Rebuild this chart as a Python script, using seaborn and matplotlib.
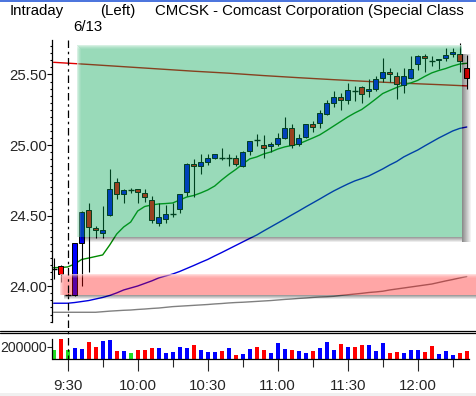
import numpy as np
import matplotlib
matplotlib.use('Agg')
import matplotlib.pyplot as plt
import seaborn as sns
from matplotlib.patches import Rectangle
from matplotlib.lines import Line2D
from matplotlib.ticker import FixedLocator, MultipleLocator

# ---------------- data ----------------
# 3-minute candles, first two bars before 9:30 (minutes relative to 9:30)
bar_minutes = np.arange(60) * 3 - 6
opens = [24.12, 24.145, 23.94, 23.94, 24.31, 24.54, 24.41, 24.38, 24.505, 24.74,
         24.655, 24.685, 24.69, 24.66, 24.61, 24.45, 24.48, 24.515, 24.55, 24.665,
         24.865, 24.855, 24.882, 24.91, 24.91, 24.905, 24.905, 24.855, 24.955, 25.035,
         25.00, 24.99, 25.01, 25.05, 25.12, 25.01, 25.06, 25.147, 25.155, 25.22,
         25.30, 25.34, 25.32, 25.38, 25.41, 25.38, 25.395, 25.477, 25.52, 25.49,
         25.425, 25.478, 25.572, 25.633, 25.595, 25.60, 25.615, 25.643, 25.643, 25.545]
highs = [24.20, 24.15, 23.95, 24.305, 24.53, 24.59, 24.43, 24.57, 24.83, 24.77,
         24.69, 24.695, 24.69, 24.69, 24.64, 24.59, 24.575, 24.59, 24.65, 24.87,
         24.90, 24.94, 24.94, 24.94, 24.98, 24.94, 24.93, 24.96, 25.03, 25.08,
         25.07, 25.025, 25.085, 25.20, 25.15, 25.08, 25.15, 25.17, 25.25, 25.32,
         25.38, 25.37, 25.44, 25.415, 25.42, 25.47, 25.49, 25.62, 25.545, 25.52,
         25.545, 25.63, 25.635, 25.645, 25.63, 25.61, 25.69, 25.684, 25.72, 25.64]
lows = [24.05, 24.03, 23.93, 23.93, 24.00, 24.10, 24.34, 24.34, 24.50, 24.62,
        24.59, 24.66, 24.59, 24.60, 24.45, 24.43, 24.445, 24.49, 24.52, 24.64,
        24.63, 24.795, 24.86, 24.90, 24.895, 24.85, 24.85, 24.846, 24.93, 24.99,
        24.91, 24.95, 24.99, 25.04, 24.98, 24.995, 25.05, 25.095, 25.12, 25.215,
        25.27, 25.245, 25.29, 25.31, 25.30, 25.34, 25.38, 25.45, 25.45, 25.325,
        25.367, 25.47, 25.53, 25.52, 25.56, 25.537, 25.595, 25.626, 25.52, 25.40]
closes = [24.12, 24.09, 23.94, 24.305, 24.528, 24.42, 24.40, 24.40, 24.69, 24.65,
          24.685, 24.685, 24.665, 24.63, 24.47, 24.49, 24.51, 24.52, 24.65, 24.865,
          24.855, 24.88, 24.906, 24.937, 24.905, 24.908, 24.865, 24.95, 25.03, 25.03,
          24.98, 25.01, 25.05, 25.12, 25.00, 25.05, 25.15, 25.13, 25.225, 25.30,
          25.34, 25.32, 25.39, 25.375, 25.36, 25.40, 25.47, 25.515, 25.50, 25.43,
          25.49, 25.537, 25.633, 25.615, 25.59, 25.607, 25.637, 25.66, 25.595, 25.475]
volumes = [145000, 331000, 145000, 186000, 168000, 278000, 203000, 296000, 313000, 139000,
           139000, 99000, 151000, 151000, 186000, 186000, 104000, 122000, 203000, 186000,
           238000, 151000, 116000, 122000, 133000, 186000, 70000, 87000, 168000, 203000,
           151000, 104000, 261000, 168000, 151000, 133000, 104000, 133000, 186000, 290000,
           151000, 244000, 203000, 203000, 226000, 226000, 133000, 261000, 104000, 122000,
           104000, 151000, 151000, 122000, 220000, 87000, 133000, 70000, 104000, 133000]

ma_short = [24.132, 24.133, 24.137, 24.158, 24.190, 24.200, 24.211, 24.222, 24.292, 24.370,
            24.420, 24.455, 24.533, 24.565, 24.576, 24.583, 24.586, 24.590, 24.611, 24.632,
            24.643, 24.661, 24.682, 24.710, 24.753, 24.792, 24.827, 24.866, 24.902, 24.916,
            24.937, 24.951, 24.972, 24.987, 24.997, 25.008, 25.029, 25.050, 25.072, 25.103,
            25.135, 25.167, 25.199, 25.227, 25.252, 25.288, 25.326, 25.365, 25.387, 25.408,
            25.426, 25.440, 25.458, 25.486, 25.511, 25.528, 25.542, 25.560, 25.574, 25.579]
ma_mid = [23.880, 23.880, 23.880, 23.885, 23.892, 23.899, 23.910, 23.921, 23.935, 23.953,
          23.974, 23.988, 24.002, 24.020, 24.038, 24.059, 24.073, 24.087, 24.105, 24.126,
          24.147, 24.169, 24.190, 24.215, 24.239, 24.264, 24.289, 24.314, 24.339, 24.363,
          24.392, 24.420, 24.448, 24.476, 24.505, 24.533, 24.562, 24.590, 24.618, 24.647,
          24.675, 24.700, 24.724, 24.746, 24.763, 24.781, 24.806, 24.831, 24.859, 24.884,
          24.916, 24.941, 24.965, 24.994, 25.022, 25.050, 25.075, 25.100, 25.118, 25.128]
ma_long = [23.816, 23.816, 23.816, 23.816, 23.816, 23.816, 23.816, 23.820, 23.824, 23.827,
           23.830, 23.832, 23.836, 23.839, 23.843, 23.846, 23.851, 23.856, 23.859, 23.862,
           23.865, 23.868, 23.871, 23.875, 23.878, 23.882, 23.885, 23.887, 23.890, 23.893,
           23.896, 23.899, 23.903, 23.907, 23.910, 23.914, 23.917, 23.921, 23.924, 23.926,
           23.929, 23.935, 23.940, 23.945, 23.950, 23.956, 23.960, 23.965, 23.974, 23.981,
           23.988, 23.995, 24.002, 24.009, 24.016, 24.027, 24.038, 24.048, 24.059, 24.069]
prev_line_minutes = [-6, 9, 24, 39, 54, 69, 84, 99, 114, 129, 144, 159, 171]
prev_line_values = [25.586, 25.571, 25.555, 25.539, 25.523, 25.509, 25.492, 25.477,
                    25.463, 25.450, 25.438, 25.428, 25.419]

# zones
green_zone = dict(x0=4.0, x1=169.0, y0=24.349, y1=25.709)
red_zone = dict(x0=-3.3, x1=180.0, y0=23.941, y1=24.087)

price_ticks = [24.00, 24.50, 25.00, 25.50]
time_ticks = [0, 30, 60, 90, 120, 150]
time_labels = ['9:30', '10:00', '10:30', '11:00', '11:30', '12:00']
vol_ticks = [200000]

# ---------------- style ----------------
sns.set_style('white')
plt.rcParams['font.family'] = ['Liberation Sans', 'DejaVu Sans']
FS = 10.8  # ~15 px at 100 dpi

W, H = 477, 396
fig = plt.figure(figsize=(W / 100, H / 100), dpi=100)
PX_L, PX_R = 52.5, 477
P_TOP, P_BOT = 40, 322.3
V_TOP, V_BOT = 333, 359
ax = fig.add_axes([PX_L / W, 1 - P_BOT / H, (PX_R - PX_L) / W, (P_BOT - P_TOP) / H])
axv = fig.add_axes([PX_L / W, 1 - V_BOT / H, (PX_R - PX_L) / W, (V_BOT - V_TOP) / H])
for a in (ax, axv):
    a.set_facecolor('none')
    a.set_xlim(-6.5, 175.4)
ax.set_ylim(23.745, 25.744)
axv.set_ylim(0, 433000)

pxx = 181.9 / 424.5          # minutes per pixel
pxy = (25.744 - 23.745) / (P_BOT - P_TOP)  # price per pixel

UP, DOWN, FLAT = '#0000ff', '#ff0000', '#22dd22'

# moving-average lines
sns.lineplot(x=prev_line_minutes, y=prev_line_values, ax=ax, color='#e00000', lw=1.0, zorder=1, legend=False)
sns.lineplot(x=bar_minutes, y=ma_long, ax=ax, color='#808080', lw=1.0, zorder=1, legend=False)
sns.lineplot(x=bar_minutes, y=ma_mid, ax=ax, color='#0000e0', lw=1.0, zorder=1, legend=False)
sns.lineplot(x=bar_minutes, y=ma_short, ax=ax, color='#008a00', lw=1.0, zorder=1, legend=False)

# candles
body_w = 5 * pxx
for t, o, h, l, c in zip(bar_minutes, opens, highs, lows, closes):
    ax.vlines(t, l, h, color='black', lw=0.8, zorder=2)
    if abs(c - o) < 0.006:
        ax.hlines(o, t - 3 * pxx, t + 3 * pxx, color='black', lw=1.0, zorder=3)
    else:
        col = UP if c > o else DOWN
        ax.add_patch(Rectangle((t - body_w / 2, min(o, c)), body_w, abs(c - o),
                               facecolor=col, edgecolor='black', lw=0.7, zorder=3))

# zones (translucent, on top, soft top/left edges, drop shadow)
def zone(z, color, alpha, shadow_r, shadow_b):
    x0, x1, y0, y1 = z['x0'], z['x1'], z['y0'], z['y1']
    ax.add_patch(Rectangle((x0, y0), x1 - x0, y1 - y0, facecolor=color, alpha=alpha,
                           edgecolor='none', zorder=6))
    for j, fa in enumerate([0.6, 0.4, 0.22, 0.1]):
        ax.add_patch(Rectangle((x0, y1 - (j + 1) * pxy), x1 - x0, pxy, facecolor='white', alpha=fa,
                               edgecolor='none', zorder=7))
        ax.add_patch(Rectangle((x0 + j * pxx, y0), pxx, y1 - y0 - (j + 1) * pxy, facecolor='white',
                               alpha=fa, edgecolor='none', zorder=7))
    for j in range(shadow_r):
        a_ = 0.45 * (1 - j / shadow_r)
        ax.add_patch(Rectangle((x1 + j * pxx, y0 - 5 * pxy), pxx, (y1 - y0) - 4 * pxy,
                               facecolor='black', alpha=a_, edgecolor='none', zorder=5))
    for j in range(shadow_b):
        a_ = 0.38 * (1 - j / shadow_b)
        ax.add_patch(Rectangle((x0 + 4 * pxx, y0 - (j + 1) * pxy), x1 - x0 - 4 * pxx, pxy,
                               facecolor='black', alpha=a_, edgecolor='none', zorder=5))

zone(green_zone, '#00a350', 0.4, 9, 5)
zone(red_zone, '#ff0000', 0.35, 0, 4)

# volume bars
vcols = [UP if c > o else (DOWN if c < o else FLAT) for o, c in zip(opens, closes)]
axv.bar(bar_minutes, volumes, width=4 * pxx, color=vcols, edgecolor='none', zorder=2)

# axes styling
for a in (ax, axv):
    for s in a.spines.values():
        s.set_visible(False)
    a.spines['left'].set_visible(True)
    a.spines['left'].set_color('black')
    a.spines['left'].set_linewidth(0.9)
    a.grid(False)
axv.spines['left'].set_bounds(0, 331000)
axv.spines['bottom'].set_visible(True)
axv.spines['bottom'].set_color('black')
axv.spines['bottom'].set_linewidth(0.9)
axv.spines['bottom'].set_bounds(-6.5, 172.0)

ax.yaxis.set_major_locator(FixedLocator(price_ticks))
ax.set_yticklabels([f'{v:.2f}' for v in price_ticks], fontsize=FS)
ax.yaxis.set_minor_locator(MultipleLocator(0.05))
ax.tick_params(axis='y', which='major', direction='out', length=3.3, width=0.8, pad=0.8, color='black')
ax.tick_params(axis='y', which='minor', direction='out', length=1.6, width=0.8, color='black')
ax.tick_params(axis='y', which='both', left=True)
ax.set_xticks([])

axv.yaxis.set_major_locator(FixedLocator(vol_ticks))
axv.set_yticklabels([str(v) for v in vol_ticks], fontsize=10.1)
axv.tick_params(axis='y', which='major', direction='out', length=3.3, width=0.8, pad=0.5, left=True)
axv.xaxis.set_major_locator(FixedLocator(time_ticks))
axv.xaxis.set_minor_locator(FixedLocator([15, 45, 75, 105, 135, 165]))
axv.set_xticklabels(time_labels, fontsize=FS)
axv.tick_params(axis='x', which='major', direction='out', length=8.6, width=0.8, pad=6, bottom=True)
axv.tick_params(axis='x', which='minor', direction='out', length=5.8, width=0.8, bottom=True)

# 9:30 session divider (figure-level dashed line)
x930 = PX_L + (0 - (-6.5)) / pxx
fig.add_artist(Line2D([x930 / W, x930 / W], [1 - 40 / H, 1 - 359 / H], transform=fig.transFigure,
                      color='black', lw=0.9, ls=(0, (6, 3, 2, 3)), zorder=10))

# panel separator double line and frame lines
for yy in (330.5, 332.8):
    fig.add_artist(Line2D([0, 1], [1 - yy / H, 1 - yy / H], transform=fig.transFigure, color='black', lw=0.9))
fig.add_artist(Line2D([0, 1], [1 - 0.6 / H, 1 - 0.6 / H], transform=fig.transFigure, color='#2a5bd7', lw=1.2))
fig.add_artist(Rectangle((0, 0), 1, 3 / H, transform=fig.transFigure, facecolor='#f0f0f0', edgecolor='none'))

# title pieces
title_parts = [('Intraday', 10), ('(Left)', 100), ('CMCSK - Comcast Corporation (Special Class', 155)]
for txt, xp in title_parts:
    fig.text(xp / W, 1 - 11 / H, txt, fontsize=FS, va='center', ha='left', color='black')
fig.text(73 / W, 1 - 27 / H, '6/13', fontsize=FS, va='center', ha='left', color='black')

fig.savefig('out.png', dpi=100)
